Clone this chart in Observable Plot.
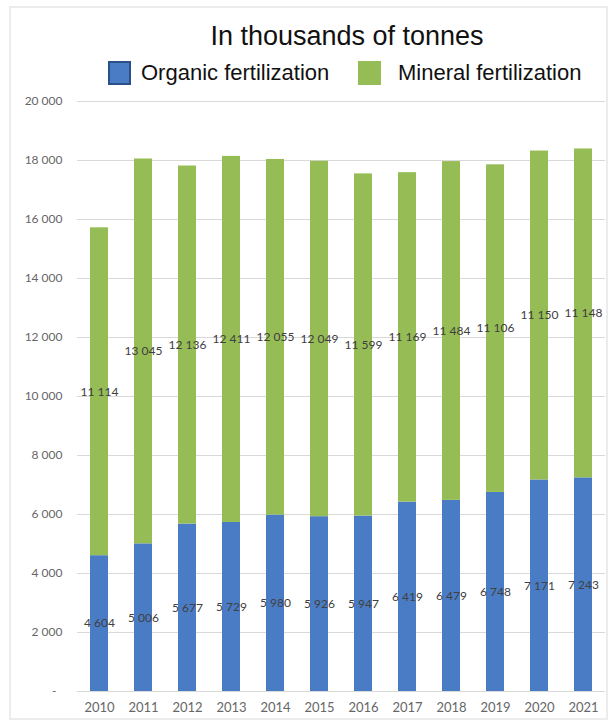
<!DOCTYPE html>
<html><head><meta charset="utf-8">
<script src="https://cdn.jsdelivr.net/npm/d3@7"></script>
<script src="https://cdn.jsdelivr.net/npm/@observablehq/plot@0.6"></script>
<style>
body{margin:0;background:#fff;}
#wrap{position:relative;width:613px;height:725px;overflow:hidden;font-family:"Liberation Sans",Arial,sans-serif;background:#fff;}
#frame{position:absolute;left:9px;top:6px;width:599px;height:714px;border:2px solid #ececec;box-sizing:border-box;}
#title{position:absolute;left:347px;top:21px;transform:translateX(-50%);white-space:nowrap;font-size:27px;color:#111;}
.sw{position:absolute;width:23px;height:24px;box-sizing:border-box;}
.lt{position:absolute;white-space:nowrap;font-size:22px;color:#111;line-height:24px;}
#chart{position:absolute;left:0;top:90px;}
</style>
</head><body>
<div id="wrap">
  <div id="frame"></div>
  <div id="title">In thousands of tonnes</div>
  <div class="sw" id="sw0" style="left:108px;top:61px;"></div>
  <div class="lt" id="lt0" style="left:141px;top:61px;"></div>
  <div class="sw" id="sw1" style="left:358px;top:61px;"></div>
  <div class="lt" id="lt1" style="left:398px;top:61px;"></div>
  <div id="chart"></div>
</div>
<script>
const years = ["2010","2011","2012","2013","2014","2015","2016","2017","2018","2019","2020","2021"];
const organic = [4604, 5006, 5677, 5729, 5980, 5926, 5947, 6419, 6479, 6748, 7171, 7243];
const mineral = [11114, 13045, 12136, 12411, 12055, 12049, 11599, 11169, 11484, 11106, 11150, 11148];
const seriesNames = ["Organic fertilization", "Mineral fertilization"];
const colors = ["#4a7cc5", "#96bd55"];
const yTicks = [0, 2000, 4000, 6000, 8000, 10000, 12000, 14000, 16000, 18000, 20000];

const table = [];
years.forEach((yr, i) => {
  table.push({year: yr, series: seriesNames[0], value: organic[i]});
  table.push({year: yr, series: seriesNames[1], value: mineral[i]});
});

const fmt = d3.formatLocale({decimal: ",", thousands: " ", grouping: [3], currency: ["", ""]}).format(",");

document.getElementById("sw0").style.background = colors[0];
document.getElementById("sw0").style.border = "2px solid #2c4f8a";
document.getElementById("sw1").style.background = colors[1];
document.getElementById("lt0").textContent = seriesNames[0];
document.getElementById("lt1").textContent = seriesNames[1];

const chart = Plot.plot({
  width: 613,
  height: 635,
  marginTop: 11,
  marginBottom: 34,
  marginLeft: 77,
  marginRight: 8,
  style: {fontFamily: "Lato, 'Liberation Sans', sans-serif", fontSize: "12px", color: "#666", background: "transparent"},
  x: {type: "band", domain: years, paddingInner: 0.6, paddingOuter: 0.3, label: null},
  y: {domain: [0, 20000], label: null},
  color: {domain: seriesNames, range: colors},
  marks: [
    Plot.gridY(yTicks, {stroke: "#d9d9d9", strokeOpacity: 1}),
    Plot.barY(table, {x: "year", y: "value", fill: "series", z: "series"}),
    Plot.text(table, Plot.stackY({x: "year", y: "value", z: "series", text: d => fmt(d.value), fill: "#404040", fontSize: 12})),
    Plot.axisY(yTicks, {tickSize: 0, tickPadding: 15, tickFormat: d => d === 0 ? "-\u2002" : fmt(d), fill: "#666", fontSize: 12}),
    Plot.axisX({tickSize: 0, tickPadding: 11, fill: "#666", fontSize: 13})
  ]
});
document.getElementById("chart").appendChild(chart);
</script>
</body></html>
